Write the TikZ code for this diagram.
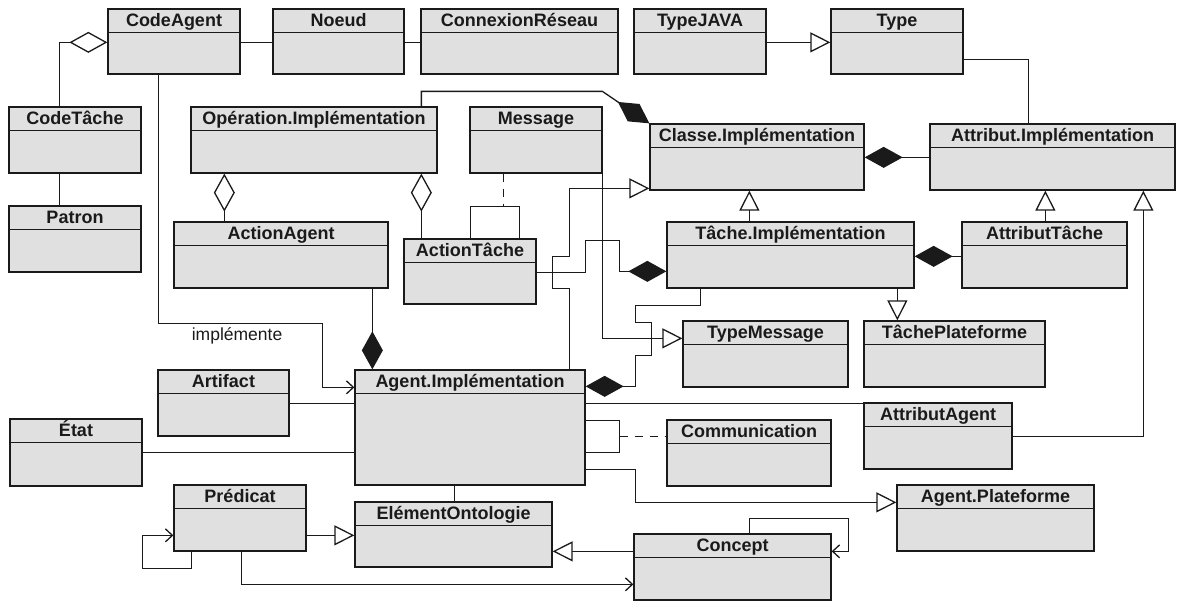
\documentclass[tikz,border=0pt]{standalone}
\usepackage{fontspec}
\setmainfont{Liberation Sans}
\usetikzlibrary{arrows.meta,fit}

\definecolor{boxfill}{RGB}{224,224,224}
\definecolor{ink}{RGB}{26,26,26}

% UML class: name, top-left (x,y), bottom-right (x,y), title
\newcommand\umlclass[6]{%
  \node[classbox, fit={(#2,#3) (#4,#5)}] (#1) {};
  \draw[classline] ([yshift=-24pt]#1.north west) -- ([yshift=-24pt]#1.north east);
  \node[classtitle] at ([yshift=-18pt]#1.north) {#6};
}

\begin{document}
\begin{tikzpicture}[x=1pt, y=-1pt,
  classbox/.style={draw=ink, fill=boxfill, line width=1.3pt, inner sep=0pt},
  classline/.style={draw=ink, line width=1.3pt},
  classtitle/.style={anchor=base, inner sep=0pt, text=ink,
    font=\bfseries\fontsize{18}{20}\selectfont},
  lbl/.style={inner sep=0pt, text=ink, font=\fontsize{17.5}{20}\selectfont},
  conn/.style={draw=ink, line width=1.3pt},
  aggr/.style={conn, -{Diamond[fill=white, length=38pt, width=21pt]}},
  comp/.style={conn, -{Diamond[length=38pt, width=21pt]}},
  gen/.style={conn, -{Triangle[fill=white, length=20pt, width=20pt]}},
  assoc/.style={conn, -{Straight Barb[length=7pt, width=13pt]}},
  dep/.style={conn, dash pattern=on 8pt off 7pt}]

\useasboundingbox (0,0) rectangle (1177,600);

% classes
\umlclass{codeagent}{108}{9}{240}{74}{CodeAgent}
\umlclass{noeud}{273}{9}{404}{74}{Noeud}
\umlclass{connexion}{421}{9}{618}{74}{ConnexionRéseau}
\umlclass{typejava}{634}{9}{766}{74}{TypeJAVA}
\umlclass{type}{831}{9}{963}{74}{Type}
\umlclass{codetache}{9}{107}{141}{173}{CodeTâche}
\umlclass{patron}{9}{206}{141}{272}{Patron}
\umlclass{operation}{191}{107}{437}{173}{Opération.Implémentation}
\umlclass{message}{470}{107}{602}{173}{Message}
\umlclass{classe}{650}{124}{864}{190}{Classe.Implémentation}
\umlclass{attribut}{930}{124}{1175}{190}{Attribut.Implémentation}
\umlclass{actionagent}{174}{222}{388}{288}{ActionAgent}
\umlclass{actiontache}{404}{239}{536}{304}{ActionTâche}
\umlclass{tache}{667}{222}{914}{288}{Tâche.Implémentation}
\umlclass{attributtache}{962}{222}{1127}{288}{AttributTâche}
\umlclass{typemessage}{683}{321}{848}{387}{TypeMessage}
\umlclass{tacheplateforme}{864}{321}{1045}{387}{TâchePlateforme}
\umlclass{artifact}{158}{370}{289}{436}{Artifact}
\umlclass{agent}{355}{370}{585}{485}{Agent.Implémentation}
\umlclass{attributagent}{864}{403}{1012}{469}{AttributAgent}
\umlclass{communication}{667}{420}{831}{486}{Communication}
\umlclass{etat}{10}{419}{142}{486}{État}
\umlclass{agentplateforme}{897}{485}{1094}{551}{Agent.Plateforme}
\umlclass{predicat}{174}{485}{306}{551}{Prédicat}
\umlclass{elementonto}{355}{502}{552}{567}{ElémentOntologie}
\umlclass{concept}{634}{534}{831}{600}{Concept}

% top row
\draw[aggr] ([xshift=51pt]codetache.north west) |- ([yshift=-34pt]codeagent.north west);
\draw[conn] ([xshift=51pt]codetache.south west) -- ([xshift=51pt]patron.north west);
\draw[conn] ([yshift=-34pt]codeagent.north east) -- ([yshift=-34pt]noeud.north west);
\draw[conn] ([yshift=-34pt]noeud.north east) -- ([yshift=-34pt]connexion.north west);
\draw[gen] ([yshift=-34pt]typejava.north east) -- ([yshift=-34pt]type.north west);
\draw[conn] ([yshift=-51pt]type.north east) -| ([xshift=99pt]attribut.north west);

% operations and actions
\draw[comp] ([xshift=231pt]operation.north west) -- ++(0,-15) -- ++(181,0) -- (classe.north west);
\draw[aggr] ([xshift=51pt]actionagent.north west) -- ([xshift=34pt]operation.south west);
\draw[aggr] ([xshift=18pt]actiontache.north west) -- ([xshift=231pt]operation.south west);
\draw[conn] ([xshift=67pt]actiontache.north west) -- ++(0,-32) -| ([xshift=116pt]actiontache.north west);
\coordinate (msgloop) at ([xshift=100pt, yshift=32pt]actiontache.north west);
\draw[dep] ([xshift=34pt]message.south west) -- (msgloop);
\draw[comp] ([yshift=-34pt]actiontache.north east) -- ++(49,0) -- ++(0,-32) -- ++(34,0)
  |- ([yshift=-50pt]tache.north west);

% generalisations towards the implementation classes
\draw[gen] ([xshift=215pt]agent.north west) -- ++(0,-81) -- ++(-17,0) -- ++(0,-32) -- ++(17,0)
  |- ([yshift=-65pt]classe.north west);
\draw[gen] (message.south east) |- ([yshift=-18pt]typemessage.north west);
\draw[comp] ([xshift=34pt]tache.south west) -- ++(0,17) -- ++(-65,0) -- ++(0,17) -- ++(16,0)
  -- ++(0,33) -- ++(-16,0) |- ([yshift=-17pt]agent.north east);
\draw[gen] ([xshift=83pt]tache.north west) -- ([xshift=100pt]classe.south west);
\draw[comp] ([yshift=-34pt]attribut.north west) -- ([yshift=-34pt]classe.north east);
\draw[gen] ([xshift=84pt]attributtache.north west) -- ([xshift=116pt]attribut.south west);
\draw[gen] ([yshift=-34pt]attributagent.north east) -| ([xshift=214pt]attribut.south west);
\draw[comp] ([yshift=-35pt]attributtache.north west) -- ([yshift=-35pt]tache.north east);
\draw[gen] ([xshift=231pt]tache.south west) -- ([xshift=34pt]tacheplateforme.north west);

% agent implementation
\draw[assoc] ([xshift=51pt]codeagent.south west) -- ++(0,249)
  -- node[lbl, pos=0.48, anchor=base, yshift=-17pt] {implémente} ++(164,0)
  |- ([yshift=-18pt]agent.north west);
\draw[comp] ([xshift=199pt]actionagent.south west) -- ([xshift=18pt]agent.north west);
\draw[conn] ([yshift=-34pt]artifact.north east) -- ([yshift=-34pt]agent.north west);
\draw[conn] ([yshift=-34pt]etat.north east) -- ([yshift=-83pt]agent.north west);
\draw[conn] ([yshift=-34pt]agent.north east) -- ([yshift=-1pt]attributagent.north west);
\draw[conn] ([yshift=-51pt]agent.north east) -- ++(34,0) |- ([yshift=-83pt]agent.north east);
\coordinate (agentloop) at ([xshift=34pt, yshift=-67pt]agent.north east);
\draw[dep] (agentloop) -- ([yshift=-17pt]communication.north west);
\draw[gen] ([yshift=-100pt]agent.north east) -- ++(50,0) |- ([yshift=-18pt]agentplateforme.north west);
\draw[conn] ([xshift=100pt]agent.south west) -- ([xshift=100pt]elementonto.north west);

% ontology
\draw[gen] ([yshift=-51pt]predicat.north east) -- ([yshift=-34pt]elementonto.north west);
\draw[assoc] ([xshift=18pt]predicat.south west) -- ++(0,17) -- ++(-49,0) |- ([yshift=-51pt]predicat.north west);
\draw[assoc] ([xshift=68pt]predicat.south west) |- ([yshift=-51pt]concept.north west);
\draw[gen] ([yshift=-18pt]concept.north west) -- ([yshift=-50pt]elementonto.north east);
\draw[assoc] ([xshift=116pt]concept.north west) -- ++(0,-15) -- ++(99,0) |- ([yshift=-18pt]concept.north east);

\end{tikzpicture}
\end{document}
